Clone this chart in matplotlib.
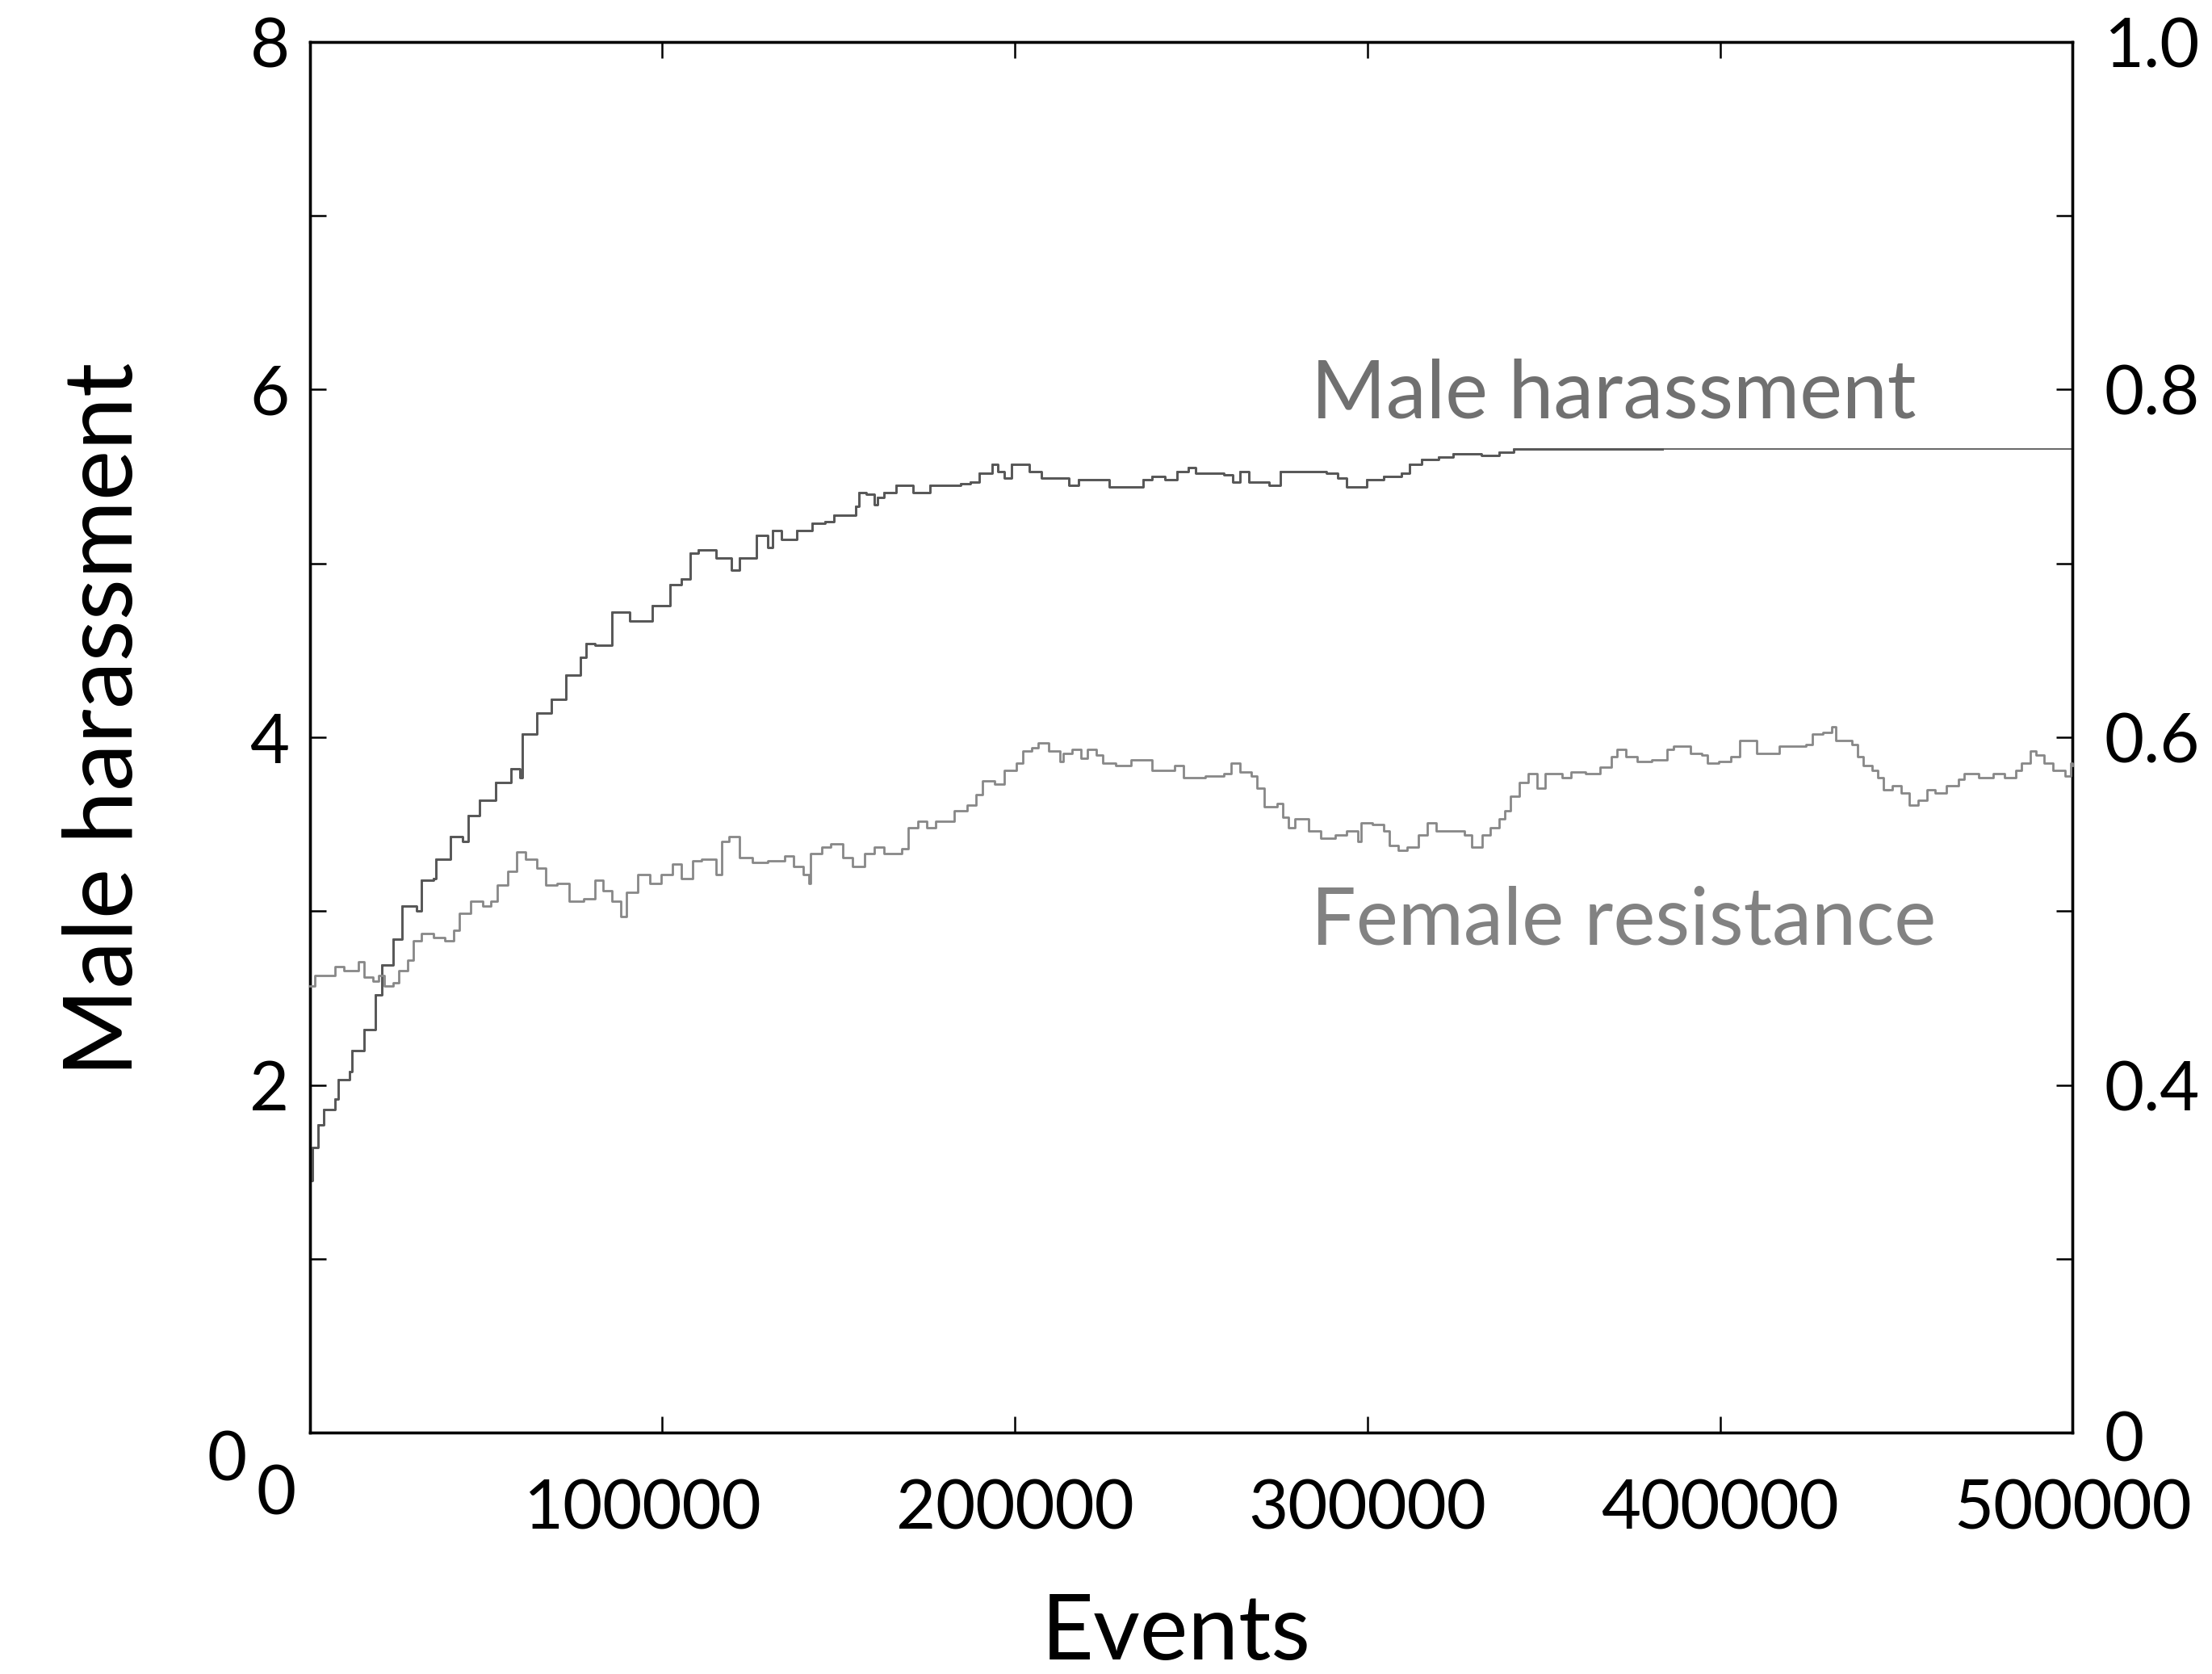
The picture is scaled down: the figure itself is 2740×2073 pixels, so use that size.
import matplotlib
matplotlib.use("Agg")
import matplotlib.pyplot as plt
import matplotlib.transforms as mtransforms
from matplotlib.patches import Rectangle

plt.rcParams['font.family'] = ['Lato', 'DejaVu Sans']

# ---- data ----
male_events = [0, 700, 2300, 3900, 7300, 8000, 11400, 12100, 15400, 18700,
               20400, 23600, 26100, 30200, 31800, 35100, 35900, 40000, 43300, 44900,
               48100, 52700, 57200, 59600, 60400, 64500, 68600, 72700, 76800, 78400,
               80900, 85800, 90700, 97200, 102100, 105400, 107900, 110300, 115200, 119700,
               121800, 126800, 130000, 131200, 133800, 138200, 142600, 146100, 148700, 154900,
               155700, 157900, 160100, 161000, 162800, 166300, 171100, 175900, 184700, 187300,
               190000, 193500, 195200, 197000, 199100, 204000, 207500, 211900, 215400, 218000,
               226700, 236400, 239000, 242600, 246100, 249100, 251300, 259200, 261800, 263800,
               266400, 272000, 275200, 288400, 291600, 294000, 299800, 304700, 309600, 312000,
               315300, 320100, 324200, 332400, 337300, 341400, 500000]
male_harassment = [1.45, 1.64, 1.77, 1.86, 1.92, 2.03, 2.08, 2.20, 2.32, 2.52,
                   2.69, 2.84, 3.03, 3.00, 3.18, 3.19, 3.30, 3.43, 3.40, 3.55,
                   3.64, 3.74, 3.82, 3.77, 4.02, 4.14, 4.22, 4.36, 4.46, 4.54,
                   4.53, 4.72, 4.67, 4.76, 4.88, 4.91, 5.06, 5.08, 5.03, 4.96,
                   5.03, 5.16, 5.09, 5.19, 5.14, 5.19, 5.23, 5.24, 5.28, 5.33,
                   5.41, 5.40, 5.34, 5.38, 5.41, 5.45, 5.41, 5.45, 5.46, 5.47,
                   5.52, 5.57, 5.53, 5.49, 5.57, 5.53, 5.49, 5.49, 5.45, 5.48,
                   5.44, 5.48, 5.50, 5.48, 5.53, 5.55, 5.52, 5.51, 5.47, 5.53,
                   5.47, 5.45, 5.53, 5.52, 5.49, 5.44, 5.48, 5.50, 5.52, 5.57,
                   5.60, 5.61, 5.63, 5.62, 5.64, 5.66, 5.66]

female_events = [0, 1500, 7300, 9700, 13800, 15400, 17900, 19500, 21100, 23600,
                 25200, 27700, 29300, 31800, 35100, 38300, 40800, 42400, 45700, 49000,
                 51400, 53100, 56300, 58800, 61200, 64500, 66900, 70200, 73500, 77600,
                 80900, 83300, 85800, 88200, 89900, 93100, 96400, 99600, 103000, 105400,
                 108700, 111100, 115200, 116800, 118900, 121800,
                 125500, 130000, 134700, 137300, 139900, 141700, 142100, 145200, 147800, 151300,
                 154000, 157500, 160100, 162800, 168000, 169800, 172400, 175000, 177600, 182900,
                 186400, 189000, 190800, 194300, 196900, 200400, 202200, 204800, 206600, 209600,
                 212700, 213600, 216200, 218800, 220600, 223200, 225000, 228500, 232900, 239000,
                 245200, 247800, 253900,
                 259300, 261400, 263800, 267100, 268700, 270800, 274500, 276100, 277700, 279400,
                 283400, 286700, 290800, 294000, 297300, 298100, 301400, 304700, 306300, 308800,
                 311200, 314500, 316900, 319400, 324300, 327600, 329600, 332500, 334900, 337400,
                 339000, 340600, 343100, 345500, 348000, 350400, 355300, 357700, 361800, 365900,
                 369200, 370800, 373200, 376500,
                 380600, 382600, 385000, 386700, 391600, 394900, 396500, 399700, 403000, 405500,
                 410400, 416900, 424300, 426300, 429200, 431600, 432900, 437300, 439000, 440600,
                 443100, 444700, 446400, 448800, 451300, 453700, 456200, 458600, 461000, 464300,
                 467600, 469200, 473300, 477400, 480600, 483900, 485500, 487900, 489600, 492000,
                 494500, 497800, 499400, 500000]
female_resistance = [0.457, 0.463, 0.468, 0.466, 0.471, 0.462, 0.460, 0.463, 0.457, 0.459,
                     0.466, 0.472, 0.483, 0.487, 0.485, 0.483, 0.489, 0.499, 0.506, 0.503,
                     0.506, 0.515, 0.523, 0.534, 0.530, 0.525, 0.515, 0.516, 0.506, 0.507,
                     0.518, 0.512, 0.506, 0.497, 0.511, 0.521, 0.516, 0.521, 0.527, 0.519,
                     0.529, 0.530, 0.521, 0.540, 0.543, 0.531,
                     0.528, 0.529, 0.532, 0.526, 0.521, 0.516, 0.533, 0.537, 0.539, 0.531,
                     0.526, 0.533, 0.537, 0.533, 0.536, 0.548, 0.552, 0.548, 0.552, 0.558,
                     0.561, 0.567, 0.575, 0.573, 0.581, 0.585, 0.592, 0.594, 0.597, 0.592,
                     0.586, 0.591, 0.593, 0.588, 0.593, 0.590, 0.585, 0.584, 0.587, 0.581,
                     0.584, 0.577, 0.578,
                     0.579, 0.585, 0.580, 0.578, 0.571, 0.560, 0.562, 0.554, 0.548, 0.553,
                     0.546, 0.542, 0.544, 0.546, 0.540, 0.551, 0.550, 0.546, 0.538, 0.535,
                     0.537, 0.544, 0.551, 0.546, 0.546, 0.544, 0.537, 0.544, 0.548, 0.553,
                     0.558, 0.566, 0.574, 0.579, 0.571, 0.579, 0.577, 0.580, 0.579, 0.583,
                     0.589, 0.593, 0.589, 0.586,
                     0.587, 0.587, 0.593, 0.595, 0.591, 0.590, 0.585, 0.586, 0.589, 0.598,
                     0.591, 0.595, 0.596, 0.602, 0.603, 0.606, 0.598, 0.596, 0.589, 0.584,
                     0.581, 0.577, 0.570, 0.572, 0.568, 0.561, 0.564, 0.570, 0.568, 0.572,
                     0.576, 0.579, 0.577, 0.579, 0.577, 0.581, 0.585, 0.592, 0.590, 0.585,
                     0.581, 0.578, 0.585, 0.584]

x_ticks = [0, 100000, 200000, 300000, 400000, 500000]
x_labels = ['0', '100000', '200000', '300000', '400000', '500000']
left_ticks = [0, 1, 2, 3, 4, 5, 6, 7, 8]
left_labels = ['0', '', '2', '', '4', '', '6', '', '8']
right_ticks = [0.2, 0.3, 0.4, 0.5, 0.6, 0.7, 0.8, 0.9, 1.0]
right_labels = ['0', '', '0.4', '', '0.6', '', '0.8', '', '1.0']

male_thick_until = 384000   # the male trace is drawn thinner after this point

# ---- figure ----
fig = plt.figure(figsize=(27.40, 20.73), dpi=100)
ax = fig.add_axes([0.140, 0.144, 0.797, 0.831])
ax2 = ax.twinx()

ax.set_xlim(0, 500000)
ax.set_ylim(0, 8)
ax2.set_ylim(0.2, 1.0)

# male harassment: thick part, then a thinner tail
thick = ax.plot(male_events, male_harassment, drawstyle='steps-post', color='#464646',
                lw=2.0, zorder=3, clip_on=True)[0]
clip_rect = Rectangle((0, -1), male_thick_until, 10, transform=ax.transData,
                      facecolor='none', edgecolor='none')
ax.add_patch(clip_rect)
thick.set_clip_path(clip_rect)
ax.plot(male_events, male_harassment, drawstyle='steps-post', color='#5a5a5a',
        lw=1.3, zorder=3, clip_on=False)

ax2.plot(female_events, female_resistance, drawstyle='steps-post', color='#888888',
         lw=2.0, clip_on=False, zorder=3)

tick_fs = 61
ax.set_xticks(x_ticks)
ax.set_xticklabels(x_labels, fontsize=tick_fs)
ax.set_yticks(left_ticks)
ax.set_yticklabels(left_labels, fontsize=tick_fs)
ax2.set_yticks(right_ticks)
ax2.set_yticklabels(right_labels, fontsize=tick_fs)

for a in (ax, ax2):
    for s in a.spines.values():
        s.set_linewidth(2.4)
        s.set_color('black')
ax.tick_params(axis='both', direction='in', length=14.5, width=1.8, colors='black',
               top=True, right=False, pad=18)
ax.tick_params(axis='x', pad=40)
ax2.tick_params(axis='y', direction='in', length=14.5, width=1.8, colors='black', pad=28)


def shift(label, dx_px, dy_px):
    off = mtransforms.ScaledTranslation(dx_px / 100, dy_px / 100, fig.dpi_scale_trans)
    label.set_transform(label.get_transform() + off)


xl = ax.get_xticklabels()
shift(xl[0], -42, 18)
shift(xl[1], -25, 0)
shift(ax.get_yticklabels()[0], -53, -28)
shift(ax2.get_yticklabels()[0], 0, -4)

ax.set_xlabel('Events', fontsize=81)
ax.xaxis.set_label_coords(0.4915, -0.144)
ax.xaxis.label.set_va('center')
ax.set_ylabel('Male harassment', fontsize=85)
ax.yaxis.set_label_coords(-0.116, 0.513)
ax.yaxis.label.set_va('center')

ax.text(284000, 5.97, 'Male harassment', fontsize=72, color='#707070', va='center', ha='left')
ax.text(284000, 2.94, 'Female resistance', fontsize=71, color='#828282', va='center', ha='left')

fig.savefig('out.png', dpi=100)
